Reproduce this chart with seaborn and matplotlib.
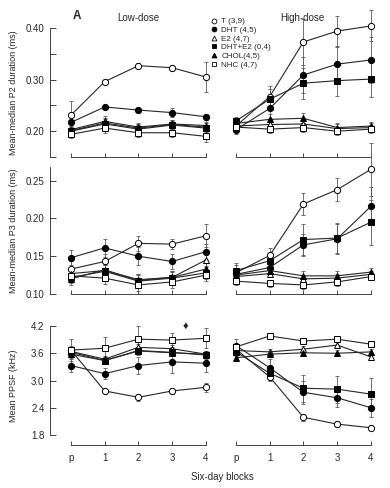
"""Steroid dose panels: P2 / P3 duration and PPSF over six-day blocks."""

import matplotlib
import matplotlib.pyplot as plt
import numpy as np
import pandas as pd
import seaborn as sns

matplotlib.use("Agg")

blocks = ["p", "1", "2", "3", "4"]
groups = ["T", "DHT", "E2", "DHT+E2", "CHOL", "NHC"]
legend_labels = ["T (3,9)", "DHT (4,5)", "E2 (4,7)", "DHT+E2 (0,4)", "CHOL(4,5)", "NHC (4,7)"]

# P2 duration (ms)
p2_low = {
    "T": [0.231, 0.296, 0.327, 0.323, 0.305],
    "DHT": [0.217, 0.247, 0.241, 0.236, 0.228],
    "E2": [0.203, 0.219, 0.208, 0.214, 0.211],
    "DHT+E2": [0.200, 0.214, 0.204, 0.212, 0.206],
    "CHOL": [0.201, 0.216, 0.206, 0.213, 0.208],
    "NHC": [0.194, 0.206, 0.197, 0.197, 0.190],
}
p2_low_err = {
    "T": [0.028, 0.004, 0.005, 0.006, 0.030],
    "DHT": [0.005, 0.003, 0.004, 0.008, 0.006],
    "E2": [0.008, 0.010, 0.008, 0.008, 0.010],
    "DHT+E2": [0.008, 0.010, 0.008, 0.008, 0.010],
    "CHOL": [0.008, 0.010, 0.008, 0.008, 0.010],
    "NHC": [0.008, 0.010, 0.008, 0.008, 0.010],
}
p2_high = {
    "T": [0.210, 0.267, 0.373, 0.394, 0.404],
    "DHT": [0.203, 0.244, 0.309, 0.330, 0.338],
    "E2": [0.210, 0.213, 0.214, 0.205, 0.207],
    "DHT+E2": [0.220, 0.262, 0.293, 0.298, 0.301],
    "CHOL": [0.215, 0.223, 0.225, 0.207, 0.210],
    "NHC": [0.208, 0.204, 0.207, 0.200, 0.204],
}
p2_high_err = {
    "T": [0.010, 0.020, 0.045, 0.030, 0.030],
    "DHT": [0.008, 0.020, 0.035, 0.035, 0.045],
    "E2": [0.008, 0.008, 0.008, 0.008, 0.008],
    "DHT+E2": [0.008, 0.020, 0.030, 0.030, 0.035],
    "CHOL": [0.008, 0.010, 0.010, 0.008, 0.008],
    "NHC": [0.008, 0.008, 0.008, 0.008, 0.008],
}

# P3 duration (ms)
p3_low = {
    "T": [0.133, 0.143, 0.167, 0.166, 0.177],
    "DHT": [0.148, 0.161, 0.150, 0.143, 0.156],
    "E2": [0.127, 0.131, 0.119, 0.122, 0.145],
    "DHT+E2": [0.122, 0.130, 0.117, 0.121, 0.128],
    "CHOL": [0.120, 0.132, 0.118, 0.122, 0.133],
    "NHC": [0.124, 0.121, 0.112, 0.116, 0.125],
}
p3_low_err = {
    "T": [0.010, 0.010, 0.010, 0.007, 0.015],
    "DHT": [0.010, 0.012, 0.012, 0.010, 0.010],
    "E2": [0.008, 0.008, 0.008, 0.008, 0.008],
    "DHT+E2": [0.008, 0.008, 0.008, 0.008, 0.008],
    "CHOL": [0.008, 0.008, 0.008, 0.008, 0.008],
    "NHC": [0.008, 0.008, 0.008, 0.008, 0.008],
}
p3_high = {
    "T": [0.128, 0.151, 0.219, 0.238, 0.265],
    "DHT": [0.126, 0.135, 0.165, 0.173, 0.216],
    "E2": [0.123, 0.127, 0.120, 0.121, 0.126],
    "DHT+E2": [0.131, 0.144, 0.172, 0.174, 0.195],
    "CHOL": [0.125, 0.131, 0.124, 0.124, 0.129],
    "NHC": [0.117, 0.114, 0.112, 0.116, 0.123],
}
p3_high_err = {
    "T": [0.010, 0.010, 0.015, 0.015, 0.035],
    "DHT": [0.008, 0.010, 0.015, 0.020, 0.025],
    "E2": [0.005, 0.005, 0.005, 0.005, 0.005],
    "DHT+E2": [0.010, 0.010, 0.020, 0.020, 0.030],
    "CHOL": [0.005, 0.006, 0.006, 0.006, 0.005],
    "NHC": [0.005, 0.005, 0.005, 0.005, 0.005],
}

# Mean PPSF (kHz)
ppsf_low = {
    "T": [3.67, 2.77, 2.63, 2.77, 2.85],
    "DHT": [3.33, 3.15, 3.33, 3.41, 3.38],
    "E2": [3.64, 3.47, 3.73, 3.70, 3.58],
    "DHT+E2": [3.62, 3.44, 3.66, 3.62, 3.56],
    "CHOL": [3.58, 3.44, 3.65, 3.61, 3.58],
    "NHC": [3.67, 3.71, 3.91, 3.89, 3.93],
}
ppsf_low_err = {
    "T": [0.10, 0.05, 0.08, 0.06, 0.10],
    "DHT": [0.15, 0.12, 0.18, 0.25, 0.20],
    "E2": [0.08, 0.08, 0.08, 0.08, 0.08],
    "DHT+E2": [0.08, 0.08, 0.08, 0.08, 0.08],
    "CHOL": [0.08, 0.08, 0.08, 0.08, 0.08],
    "NHC": [0.25, 0.25, 0.28, 0.15, 0.22],
}
ppsf_high = {
    "T": [3.69, 3.08, 2.19, 2.04, 1.96],
    "DHT": [3.77, 3.28, 2.74, 2.62, 2.40],
    "E2": [3.66, 3.63, 3.69, 3.78, 3.52],
    "DHT+E2": [3.63, 3.16, 2.83, 2.81, 2.70],
    "CHOL": [3.50, 3.58, 3.61, 3.60, 3.63],
    "NHC": [3.74, 3.98, 3.87, 3.91, 3.80],
}
ppsf_high_err = {
    "T": [0.10, 0.10, 0.08, 0.06, 0.06],
    "DHT": [0.15, 0.20, 0.25, 0.20, 0.20],
    "E2": [0.07, 0.07, 0.07, 0.07, 0.07],
    "DHT+E2": [0.10, 0.15, 0.30, 0.30, 0.35],
    "CHOL": [0.07, 0.07, 0.07, 0.07, 0.07],
    "NHC": [0.07, 0.07, 0.07, 0.07, 0.07],
}

styles = {
    "T": ("o", "white"),
    "DHT": ("o", "black"),
    "E2": ("^", "white"),
    "DHT+E2": ("s", "black"),
    "CHOL": ("^", "black"),
    "NHC": ("s", "white"),
}

sns.set_theme(style="ticks")
plt.rcParams["font.family"] = ["Liberation Sans", "DejaVu Sans"]
plt.rcParams["font.size"] = 7

fig = plt.figure(figsize=(3.9, 4.88), dpi=100)
W, H = 390, 488


def px_axes(left, top, right, bottom):
    return fig.add_axes([left / W, 1 - bottom / H, (right - left) / W, (bottom - top) / H])


rows = [
    (p2_low, p2_low_err, p2_high, p2_high_err, (0.15, 0.40), (0.15, 0.40),
     [0.15, 0.20, 0.25, 0.30, 0.35, 0.40], ["", "0.20", "", "0.30", "", "0.40"],
     "Mean-median P2 duration (ms)", 28, 157),
    (p3_low, p3_low_err, p3_high, p3_high_err, (0.10, 0.268), (0.10, 0.268),
     [0.10, 0.15, 0.20, 0.25], ["0.10", "0.15", "0.20", "0.25"],
     "Mean-median P3 duration (ms)", 167, 294),
    (ppsf_low, ppsf_low_err, ppsf_high, ppsf_high_err, (1.58, 4.2), (1.8, 4.2),
     [1.8, 2.4, 3.0, 3.6, 4.2], ["1.8", "2.4", "3.0", "3.6", "4.2"],
     "Mean PPSF (kHz)", 326, 445),
]

xs = np.arange(len(blocks))
axes_rows = []
for r, (low, low_err, high, high_err, ylim, ybounds, yticks, ylabels, ylabel, top, bottom) in enumerate(rows):
    ax_l = px_axes(50, top, 212, bottom)
    ax_r = px_axes(215, top, 377, bottom)
    for ax, means, errs in [(ax_l, low, low_err), (ax_r, high, high_err)]:
        df = pd.DataFrame(
            [(g, i, v, e) for g in groups for i, (v, e) in enumerate(zip(means[g], errs[g]))],
            columns=["group", "block", "value", "err"],
        )
        for g in groups:
            sub = df[df["group"] == g]
            marker, face = styles[g]
            ax.errorbar(sub["block"], sub["value"], yerr=sub["err"], fmt="none",
                        ecolor="0.35", elinewidth=0.6, capsize=1.3, capthick=0.6,
                        zorder=2, clip_on=False)
            sns.lineplot(data=sub, x="block", y="value", ax=ax, color="0.15",
                         linewidth=0.8, marker=marker, markersize=4.5,
                         markerfacecolor=face, markeredgecolor="black",
                         markeredgewidth=0.7, zorder=3, clip_on=False,
                         label=None, legend=False)
        ax.set_xlim(-0.62, 4.18)
        ax.set_ylim(*ylim)
        ax.set_xlabel("")
        ax.set_ylabel("")
        ax.set_xticks(xs)
        ax.spines["top"].set_visible(False)
        ax.spines["right"].set_visible(False)
        ax.spines["bottom"].set_bounds(0, 4)
        ax.tick_params(axis="x", direction="in", length=3, width=0.6, pad=6)
        for s in ax.spines.values():
            s.set_linewidth(0.6)
        if r == 2:
            ax.set_xticklabels(blocks, fontsize=7)
        else:
            ax.set_xticklabels([])
    ax_l.spines["left"].set_bounds(*ybounds)
    ax_l.set_yticks(yticks)
    ax_l.set_yticklabels(ylabels, fontsize=7)
    ax_l.tick_params(axis="y", direction="in", length=4, width=0.6, pad=4)
    ax_l.set_ylabel(ylabel, fontsize=6.5)
    ax_l.yaxis.set_label_coords(-0.20, 0.5)
    ax_r.spines["left"].set_visible(False)
    ax_r.set_yticks([])
    axes_rows.append((ax_l, ax_r))

top_l, top_r = axes_rows[0]
top_l.text(0.543, 1.04, "Low-dose", transform=top_l.transAxes, ha="center", va="bottom", fontsize=7)
top_r.text(0.537, 1.04, "High-dose", transform=top_r.transAxes, ha="center", va="bottom", fontsize=7)
top_l.text(0.14, 1.05, "A", transform=top_l.transAxes, ha="left", va="bottom",
           fontsize=8.5, fontweight="bold")

handles = [
    plt.Line2D([], [], linestyle="none", marker=styles[g][0], markersize=3.5,
               markerfacecolor=styles[g][1], markeredgecolor="black", markeredgewidth=0.6)
    for g in groups
]
top_r.legend(handles, legend_labels, loc="upper left", bbox_to_anchor=(-0.05, 1.11),
             frameon=False, fontsize=5.8, handlelength=0.8, handletextpad=0.5,
             labelspacing=0.12, borderpad=0)

# significance mark above low-dose PPSF
axes_rows[2][0].text(3.4, 4.2, "\u2666", ha="center", va="center", fontsize=8)

fig.text(222 / W, 1 - 477 / H, "Six-day blocks", ha="center", va="center", fontsize=7)

fig.savefig("out.png", dpi=100, facecolor="white")
